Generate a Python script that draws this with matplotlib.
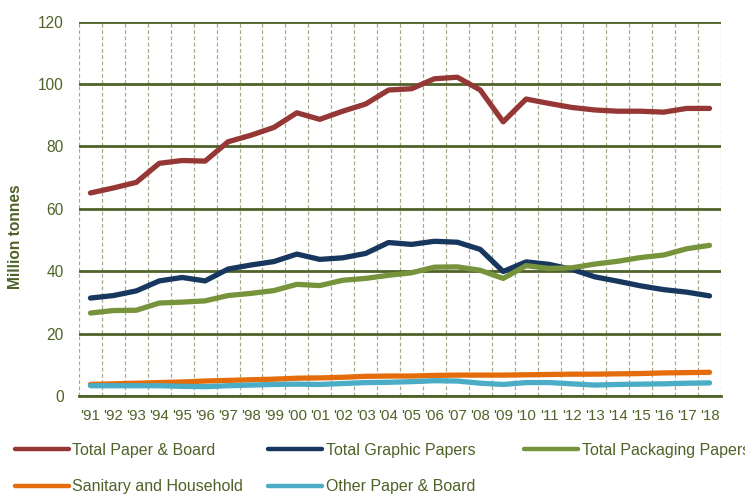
import matplotlib
matplotlib.use("Agg")
import matplotlib.pyplot as plt
from matplotlib.ticker import MultipleLocator, FixedLocator

plt.rcParams["font.family"] = ["Liberation Sans", "DejaVu Sans"]

# data (million tonnes)
years = ["'91", "'92", "'93", "'94", "'95", "'96", "'97", "'98", "'99", "'00",
         "'01", "'02", "'03", "'04", "'05", "'06", "'07", "'08", "'09", "'10",
         "'11", "'12", "'13", "'14", "'15", "'16", "'17", "'18"]

total_paper_board = [65.1, 66.7, 68.5, 74.6, 75.5, 75.3, 81.5, 83.6, 86.1, 90.8,
                     88.7, 91.3, 93.6, 98.1, 98.5, 101.7, 102.2, 98.1, 87.9, 95.2,
                     93.8, 92.5, 91.7, 91.3, 91.3, 91.0, 92.2, 92.2]
total_graphic = [31.4, 32.2, 33.7, 36.9, 38.0, 36.9, 40.7, 42.0, 43.1, 45.5,
                 43.8, 44.3, 45.7, 49.2, 48.6, 49.6, 49.3, 47.0, 39.9, 43.0,
                 42.2, 40.6, 38.2, 36.8, 35.3, 34.1, 33.3, 32.1]
total_packaging = [26.6, 27.4, 27.5, 29.8, 30.1, 30.5, 32.2, 32.9, 33.8, 35.8,
                   35.4, 37.1, 37.7, 38.7, 39.5, 41.3, 41.4, 40.3, 37.7, 41.8,
                   40.9, 41.1, 42.3, 43.2, 44.4, 45.2, 47.2, 48.3]
sanitary = [3.7, 3.9, 4.1, 4.3, 4.5, 4.8, 5.0, 5.2, 5.4, 5.7,
            5.8, 6.0, 6.3, 6.4, 6.4, 6.6, 6.7, 6.7, 6.7, 6.8,
            6.9, 7.0, 7.0, 7.1, 7.2, 7.4, 7.5, 7.6]
other = [3.3, 3.3, 3.3, 3.3, 3.1, 3.0, 3.3, 3.5, 3.7, 3.8,
         3.7, 4.0, 4.3, 4.4, 4.6, 4.9, 4.8, 4.1, 3.7, 4.3,
         4.3, 3.9, 3.5, 3.7, 3.8, 3.9, 4.1, 4.2]

labels = ["Total Paper & Board", "Total Graphic Papers", "Total Packaging Papers",
          "Sanitary and Household", "Other Paper & Board"]
series = [total_paper_board, total_graphic, total_packaging, sanitary, other]
colors = ["#953735", "#17375E", "#77933C", "#E46C0A", "#4BACC6"]

txt = "#4F6228"

fig = plt.figure(figsize=(7.45, 4.96), dpi=100)
ax = fig.add_axes([79 / 745, 1 - 396 / 496, 642 / 745, (396 - 21.7) / 496])

x = range(len(years))
lines = []
for vals, col in zip(series, colors):
    (ln,) = ax.plot(x, vals, color=col, lw=3.8, solid_joinstyle="round",
                    solid_capstyle="round", zorder=3)
    lines.append(ln)

ax.set_xlim(-0.5, len(years) - 0.5)
ax.set_ylim(0, 120)
ax.yaxis.set_major_locator(MultipleLocator(20))
ax.set_xticks(list(x))
ax.set_xticklabels(years)
# dashed verticals sit between the categories
ax.xaxis.set_minor_locator(FixedLocator([i - 0.5 for i in range(len(years) + 1)]))

ax.grid(axis="y", which="major", color=txt, lw=2.0, zorder=1)
ax.grid(axis="x", which="minor", color="#a8a88a", lw=0.9, ls=(0, (3, 2)), zorder=1)
ax.grid(axis="x", which="major", visible=False)

for s in ["left", "right", "top"]:
    ax.spines[s].set_visible(False)
ax.spines["bottom"].set_color(txt)
ax.spines["bottom"].set_linewidth(2.0)

ax.tick_params(axis="both", which="both", length=0, colors=txt, labelsize=11.2)
ax.tick_params(axis="y", pad=11)
ax.tick_params(axis="x", pad=9)
for lab in ax.get_xticklabels():
    lab.set_fontsize(10.8)

fig.text(16 / 745, 1 - 237 / 496, "Million tonnes", rotation=90, ha="center",
         va="center", color=txt, fontsize=11.2, fontweight="bold")

# legend: one small legend per entry, laid out like the original 3-column grid
legend_pos = [(15, 450), (268, 450), (524, 450), (15, 487), (268, 487)]
for ln, lab, (px, py) in zip(lines, labels, legend_pos):
    lg = fig.legend(handles=[ln], labels=[lab], loc="center left",
                    bbox_to_anchor=(px / 745, 1 - py / 496), frameon=False,
                    borderpad=0, borderaxespad=0, handlelength=3.4,
                    handletextpad=0.2, fontsize=11.5, labelcolor=txt)
    for h in lg.legend_handles:
        h.set_linewidth(3.2)

fig.savefig("out.png", dpi=100)
